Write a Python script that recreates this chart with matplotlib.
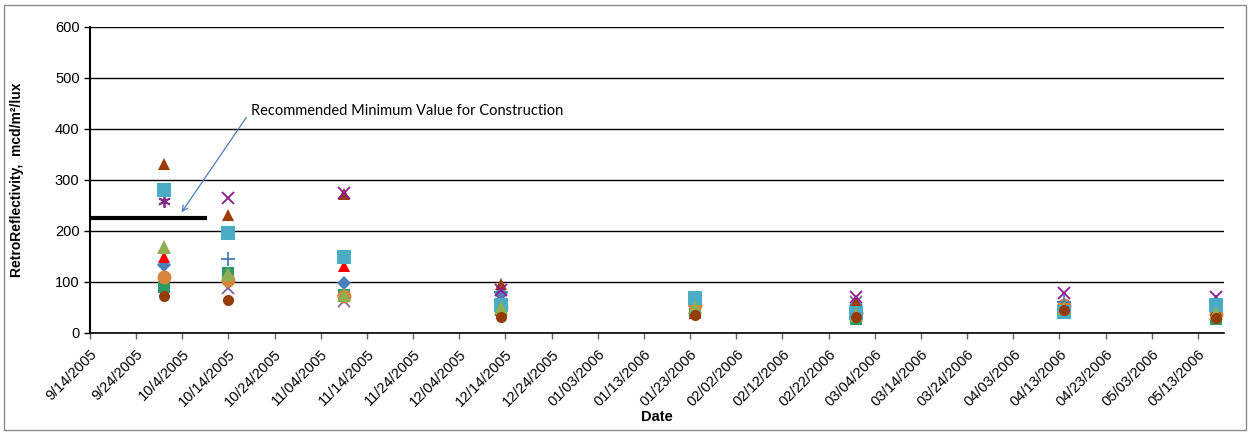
import datetime as dt
import numpy as np
import matplotlib.pyplot as plt
from matplotlib.patches import Rectangle

# Datos (mcd/m2/lux)
start = dt.date(2005, 9, 14)
dates = ["2005-09-30", "2005-10-14", "2005-11-08", "2005-12-12",
         "2006-01-23", "2006-02-27", "2006-04-13", "2006-05-16"]

tick_labels = ["9/14/2005", "9/24/2005", "10/4/2005", "10/14/2005", "10/24/2005",
               "11/04/2005", "11/14/2005", "11/24/2005", "12/04/2005", "12/14/2005",
               "12/24/2005", "01/03/2006", "01/13/2006", "01/23/2006", "02/02/2006",
               "02/12/2006", "02/22/2006", "03/04/2006", "03/14/2006", "03/24/2006",
               "04/03/2006", "04/13/2006", "04/23/2006", "05/03/2006", "05/13/2006"]

nan = np.nan
blue_diamond = [133, nan, 97, 78, 52, 55, nan, nan]
green_square = [90, 117, 75, 45, 42, 28, 45, 27]
red_triangle = [149, nan, 132, 45, 40, 35, nan, nan]
lavender_x = [nan, 88, 63, 65, 50, 60, 45, 50]
purple_star = [259, nan, nan, nan, nan, nan, nan, nan]
orange_circle = [110, 104, 73, 50, 55, 40, 55, 38]
blue_plus = [nan, 145, nan, 80, 60, 50, 60, 60]
brown_triangle = [331, 231, 272, 96, 45, 60, 50, 45]
purple_x = [nan, 265, 274, 85, nan, 70, 78, 70]
lightblue_square = [280, 196, 149, 55, 68, 40, 42, 55]
olive_triangle = [169, 115, 74, 48, 50, 35, 48, 40]
brown_circle = [73, 65, nan, 32, 35, 32, 45, 30]

min_value = 225

days = [(dt.date.fromisoformat(d) - start).days for d in dates]

plt.rcParams['font.family'] = ['Liberation Sans', 'DejaVu Sans']

fig = plt.figure(figsize=(12.5, 4.33), dpi=100)
ax = fig.add_axes([0.072, 0.231, 0.907, 0.707])

# borde exterior del grafico
fig.patches.append(Rectangle((0.003, 0.007), 0.994, 0.982, transform=fig.transFigure,
                             fill=False, edgecolor='#8c8c8c', linewidth=1))

series = [
    (blue_diamond, 'D', '#4A7EBB', 7, False),
    (green_square, 's', '#2E9A63', 8, False),
    (red_triangle, '^', '#FF0000', 8, False),
    (lavender_x, 'x', '#7F64A2', 8, True),
    (purple_star, (6, 2, 0), '#7E2A8A', 9, True),
    (orange_circle, 'o', '#D9843B', 10, False),
    (blue_plus, '+', '#4A7EBB', 10, True),
    (brown_triangle, '^', '#9C3D08', 8, False),
    (purple_x, 'x', '#8B1C8F', 8, True),
    (lightblue_square, 's', '#4BACC6', 10, False),
    (olive_triangle, '^', '#8FAE52', 10, False),
    (brown_circle, 'o', '#943D0C', 8, False),
]
for vals, mk, col, ms, line_mk in series:
    if line_mk:
        ax.plot(days, vals, linestyle='none', marker=mk, color=col, ms=ms, mew=1.3)
    else:
        ax.plot(days, vals, linestyle='none', marker=mk, color=col, ms=ms, mew=0)

# valor minimo recomendado
ax.plot([0, 25.3], [min_value, min_value], color='black', linewidth=3, solid_capstyle='butt')
ax.annotate('', xy=(19.5, 232), xytext=(34.2, 427),
            arrowprops=dict(arrowstyle='->', color='#4A7EBB', lw=0.9))
ax.text(34.8, 436, "Recommended Minimum Value for Construction", fontsize=10.5,
        family=['Lato', 'DejaVu Sans'], va='center', ha='left')

ax.set_xlim(0, 245.6)
ax.set_ylim(0, 600)
ax.set_yticks(range(0, 601, 100))
ax.set_xticks(range(0, 241, 10))
ax.set_xticklabels(tick_labels, rotation=45, ha='right', rotation_mode='anchor', fontsize=10.5)
ax.tick_params(axis='y', labelsize=10.5, direction='out', length=4, width=1)
ax.tick_params(axis='x', direction='out', length=4, width=1, color='#666666', pad=6)
ax.grid(axis='y', color='black', linewidth=1)
ax.set_axisbelow(True)
for s in ['top', 'right']:
    ax.spines[s].set_visible(False)
ax.spines['left'].set_linewidth(1.5)
ax.spines['bottom'].set_linewidth(1.2)

ax.set_xlabel("Date", fontsize=10.5, fontweight='bold', labelpad=1)
ax.set_ylabel("RetroReflectivity,  mcd/m\u00b2/lux", fontsize=10, fontweight='bold', labelpad=22)

fig.savefig("out.png", dpi=100)
